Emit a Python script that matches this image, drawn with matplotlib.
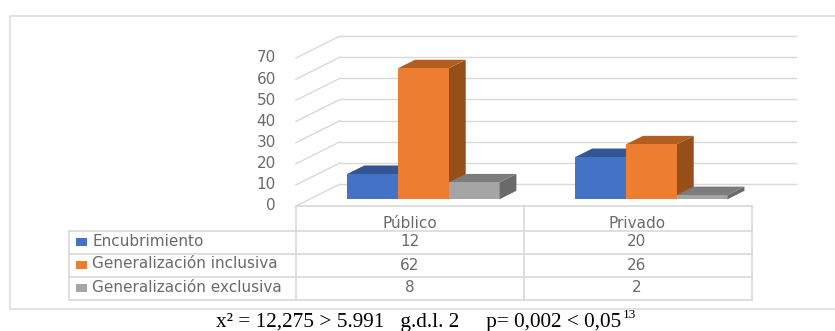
import matplotlib
matplotlib.use('Agg')
import matplotlib.pyplot as plt
from matplotlib.patches import Polygon, Rectangle

categories = ['Público', 'Privado']
series_names = ['Encubrimiento', 'Generalización inclusiva', 'Generalización exclusiva']
encubrimiento = [12, 20]
inclusiva = [62, 26]
exclusiva = [8, 2]
y_ticks = [0, 10, 20, 30, 40, 50, 60, 70]
caption = 'x² = 12,275 > 5.991   g.d.l. 2     p= 0,002 < 0,05'
caption_note = '13'

series_values = [encubrimiento, inclusiva, exclusiva]
face_colors = ['#4472C4', '#ED7D31', '#A5A5A5']
top_colors = ['#335593', '#B25E20', '#7C7C7C']
side_colors = ['#2B4A82', '#964F1B', '#6A6A6A']
grid_color = '#D9D9D9'
text_color = '#6A6A6A'
label_size = 11

W, H = 835, 331
fig = plt.figure(figsize=(W / 100, H / 100), dpi=100)

# pixel-based overlay for the outer frame, the data table and the caption
page = fig.add_axes([0, 0, 1, 1])
page.set_xlim(0, W)
page.set_ylim(H, 0)
page.axis('off')

# the front plane of the 3D plot: x in categories, y in chart values
ax = fig.add_axes([296 / W, (H - 206) / H, 456 / W, 148 / H])
ax.set_xlim(0, 2)
ax.set_ylim(0, 70)
ax.axis('off')
ax.patch.set_alpha(0)

# how far the full depth of the box shifts things, in data units
depth_x = 44 / 228
depth_y = 10.4


def shifted(x, y, depth):
    return (x + depth * depth_x, y + depth * depth_y)


# walls
for tick in y_ticks:
    x0, y0 = shifted(0, tick, 0)
    x1, y1 = shifted(0, tick, 1)
    ax.plot([x0, x1], [y0, y1], color=grid_color, lw=1, clip_on=False, zorder=1)
    ax.plot([x1, 2 + depth_x], [y1, y1], color=grid_color, lw=1, clip_on=False, zorder=1)
    ax.text(-0.088, tick, str(tick), ha='right', va='center', fontsize=label_size, color=text_color, clip_on=False)

# bars, back to front from left to right
bar_width = 0.2224
bar_front = 0.3
bar_back = 0.69
for c in range(len(categories)):
    for s in range(len(series_values)):
        v = series_values[s][c]
        left = c + 0.5 - 1.5 * bar_width + s * bar_width
        right = left + bar_width
        fl, _ = shifted(left, 0, bar_front)
        fr, _ = shifted(right, 0, bar_front)
        base = shifted(0, 0, bar_front)[1]
        top = base + v
        dx = (bar_back - bar_front) * depth_x
        dy = (bar_back - bar_front) * depth_y
        ax.add_patch(Polygon([(fr, base), (fr + dx, base + dy), (fr + dx, top + dy), (fr, top)],
                             facecolor=side_colors[s], lw=0, clip_on=False, zorder=2 + s))
        ax.add_patch(Polygon([(fl, top), (fr, top), (fr + dx, top + dy), (fl + dx, top + dy)],
                             facecolor=top_colors[s], lw=0, clip_on=False, zorder=2 + s))
        ax.add_patch(Rectangle((fl, base), fr - fl, v, facecolor=face_colors[s], lw=0, clip_on=False, zorder=2 + s))

# outer frame, open on the right
page.plot([W, 10, 10, W], [15.5, 15.5, 309, 309], color='#DDDDDD', lw=1.2)

# data table
row_lines = [206, 231, 254, 277, 300]
col_lines = [296, 524, 752]
for i, y in enumerate(row_lines):
    page.plot([296 if i == 0 else 69, 752], [y, y], color=grid_color, lw=1.2)
for x in col_lines:
    page.plot([x, x], [206, 300], color=grid_color, lw=1.2)
page.plot([69, 69], [231, 300], color=grid_color, lw=1.2)

for c, name in enumerate(categories):
    page.text(410 + c * 227, 223.5, name, ha='center', va='center', fontsize=label_size, color=text_color)

row_centers = [242, 265, 288]
for s, name in enumerate(series_names):
    y = row_centers[s]
    page.add_patch(Rectangle((75.5, y - 4), 11.5, 7.5, facecolor=face_colors[s], lw=0))
    page.text(92, y - 1, name, ha='left', va='center', fontsize=label_size, color=text_color)
    for c in range(len(categories)):
        page.text(410 + c * 227, y, str(series_values[s][c]), ha='center', va='center', fontsize=label_size, color=text_color)

# caption with its footnote mark
page.text(216, 326.5, caption, ha='left', va='baseline', fontsize=15.3, family='Liberation Serif', color='black')
page.text(623, 318.5, caption_note, ha='left', va='baseline', fontsize=9.5, family='Liberation Serif', color='black')

fig.savefig('out.png', dpi=100)
